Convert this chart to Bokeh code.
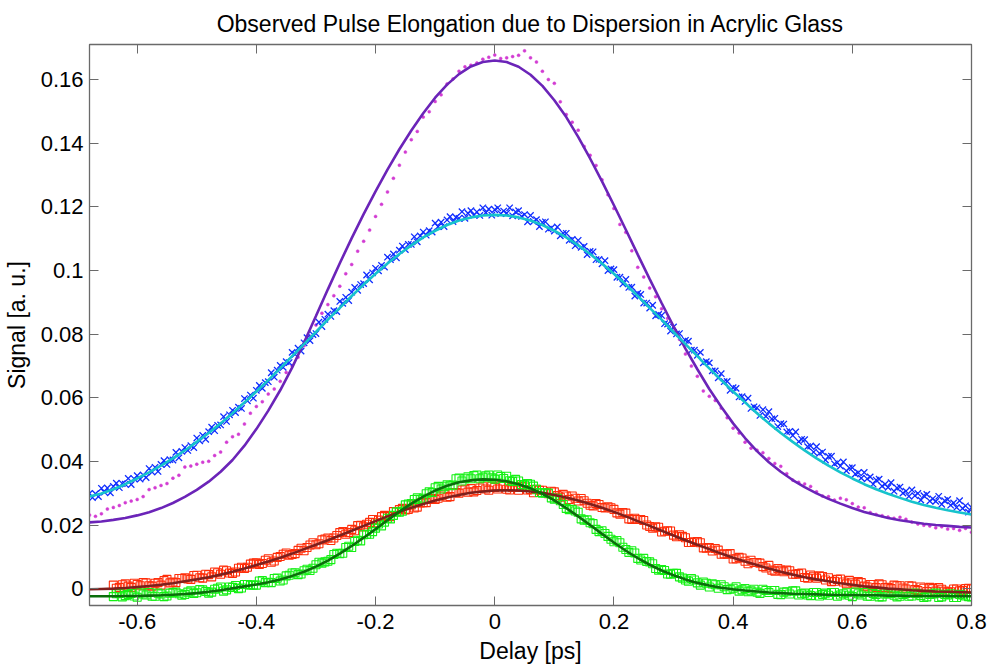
import numpy as np
from bokeh.plotting import figure
from bokeh.models import Range1d, FixedTicker, PrintfTickFormatter, LinearAxis
from bokeh.embed import file_html
from bokeh.resources import INLINE

FONT = "Liberation Sans"

# Fitted curves, sampled every 0.02 ps from -0.68 ps
fit_start, fit_step = -0.68, 0.02
fit_purple = [
    0.0209, 0.0212, 0.0217, 0.0223, 0.0231, 0.0241, 0.0254, 0.0270, 0.0289, 0.0311,
    0.0337, 0.0368, 0.0405, 0.0450, 0.0502, 0.0560, 0.0624, 0.0695, 0.0774, 0.0857,
    0.0941, 0.1023, 0.1102, 0.1177, 0.1249, 0.1317, 0.1381, 0.1440, 0.1494, 0.1543,
    0.1584, 0.1617, 0.1641, 0.1655, 0.1660, 0.1655, 0.1640, 0.1615, 0.1580, 0.1535,
    0.1482, 0.1420, 0.1352, 0.1280, 0.1205, 0.1128, 0.1050, 0.0973, 0.0898, 0.0825,
    0.0755, 0.0690, 0.0628, 0.0572, 0.0520, 0.0474, 0.0433, 0.0398, 0.0368, 0.0342,
    0.0320, 0.0300, 0.0283, 0.0268, 0.0254, 0.0242, 0.0232, 0.0223, 0.0216, 0.0210,
    0.0205, 0.0201, 0.0198, 0.0195, 0.0193,
]
fit_cyan = [
    0.0290, 0.0300, 0.0313, 0.0329, 0.0347, 0.0366, 0.0387, 0.0410, 0.0435, 0.0462,
    0.0490, 0.0520, 0.0552, 0.0586, 0.0620, 0.0656, 0.0693, 0.0731, 0.0769, 0.0807,
    0.0846, 0.0883, 0.0920, 0.0956, 0.0990, 0.1022, 0.1052, 0.1079, 0.1104, 0.1125,
    0.1143, 0.1157, 0.1167, 0.1173, 0.1175, 0.1173, 0.1167, 0.1157, 0.1143, 0.1125,
    0.1104, 0.1079, 0.1052, 0.1022, 0.0990, 0.0956, 0.0920, 0.0883, 0.0846, 0.0807,
    0.0769, 0.0731, 0.0693, 0.0656, 0.0620, 0.0586, 0.0552, 0.0520, 0.0490, 0.0462,
    0.0435, 0.0410, 0.0387, 0.0366, 0.0347, 0.0329, 0.0313, 0.0299, 0.0286, 0.0274,
    0.0264, 0.0255, 0.0247, 0.0240, 0.0234,
]
fit_red = [
    -0.0001, 0.0000, 0.0001, 0.0003, 0.0006, 0.0009, 0.0013, 0.0018, 0.0024, 0.0030,
    0.0037, 0.0045, 0.0054, 0.0064, 0.0075, 0.0086, 0.0098, 0.0111, 0.0125, 0.0139,
    0.0153, 0.0168, 0.0183, 0.0198, 0.0213, 0.0228, 0.0242, 0.0255, 0.0267, 0.0278,
    0.0287, 0.0295, 0.0302, 0.0306, 0.0309, 0.0310, 0.0309, 0.0306, 0.0302, 0.0295,
    0.0287, 0.0278, 0.0267, 0.0255, 0.0242, 0.0228, 0.0213, 0.0198, 0.0183, 0.0168,
    0.0153, 0.0139, 0.0125, 0.0111, 0.0098, 0.0086, 0.0075, 0.0064, 0.0054, 0.0045,
    0.0037, 0.0030, 0.0024, 0.0018, 0.0013, 0.0008, 0.0005, 0.0001, -0.0001, -0.0004,
    -0.0006, -0.0008, -0.0009, -0.0010, -0.0011,
]
fit_green = [
    -0.0023, -0.0023, -0.0023, -0.0022, -0.0022, -0.0021, -0.0020, -0.0018, -0.0016, -0.0013,
    -0.0009, -0.0004, 0.0002, 0.0008, 0.0014, 0.0021, 0.0030, 0.0041, 0.0054, 0.0070,
    0.0089, 0.0111, 0.0135, 0.0161, 0.0188, 0.0216, 0.0243, 0.0268, 0.0290, 0.0309,
    0.0324, 0.0335, 0.0341, 0.0344, 0.0343, 0.0338, 0.0329, 0.0316, 0.0299, 0.0278,
    0.0254, 0.0228, 0.0201, 0.0173, 0.0146, 0.0120, 0.0097, 0.0076, 0.0058, 0.0043,
    0.0030, 0.0019, 0.0011, 0.0004, -0.0001, -0.0005, -0.0008, -0.0011, -0.0013, -0.0015,
    -0.0016, -0.0017, -0.0018, -0.0019, -0.0019, -0.0020, -0.0020, -0.0021, -0.0021, -0.0022,
    -0.0022, -0.0022, -0.0022, -0.0023, -0.0023,
]

# Measured signal, magenta dots: every 0.01 ps from -0.68 ps
mag_start, mag_step = -0.68, 0.01
signal_magenta = [
    0.0232, 0.0228, 0.0236, 0.0251, 0.0256, 0.0262, 0.0271, 0.0276, 0.0281, 0.0290,
    0.0312, 0.0318, 0.0325, 0.0331, 0.0348, 0.0357, 0.0383, 0.0386, 0.0392, 0.0398,
    0.0401, 0.0419, 0.0430, 0.0461, 0.0478, 0.0486, 0.0518, 0.0552, 0.0573, 0.0588,
    0.0612, 0.0628, 0.0652, 0.0680, 0.0701, 0.0728, 0.0764, 0.0792, 0.0829, 0.0866,
    0.0893, 0.0921, 0.0951, 0.0990, 0.1019, 0.1061, 0.1092, 0.1127, 0.1170, 0.1208,
    0.1247, 0.1290, 0.1331, 0.1372, 0.1411, 0.1437, 0.1482, 0.1499, 0.1531, 0.1552,
    0.1586, 0.1602, 0.1626, 0.1640, 0.1645, 0.1652, 0.1664, 0.1670, 0.1677, 0.1666,
    0.1668, 0.1672, 0.1676, 0.1690, 0.1668, 0.1655, 0.1626, 0.1600, 0.1588, 0.1530,
    0.1490, 0.1466, 0.1441, 0.1390, 0.1362, 0.1330, 0.1285, 0.1238, 0.1195, 0.1145,
    0.1120, 0.1062, 0.1010, 0.0980, 0.0945, 0.0918, 0.0880, 0.0850, 0.0820, 0.0784,
    0.0738, 0.0700, 0.0668, 0.0622, 0.0605, 0.0592, 0.0568, 0.0538, 0.0505, 0.0490,
    0.0461, 0.0442, 0.0436, 0.0428, 0.0410, 0.0394, 0.0385, 0.0362, 0.0342, 0.0335,
    0.0330, 0.0322, 0.0305, 0.0292, 0.0290, 0.0279, 0.0285, 0.0280, 0.0268, 0.0257,
    0.0255, 0.0240, 0.0234, 0.0230, 0.0226, 0.0222, 0.0225, 0.0219, 0.0210, 0.0204,
    0.0200, 0.0198, 0.0192, 0.0195, 0.0188, 0.0190, 0.0184, 0.0190, 0.0178,
]

# Measured signal, blue crosses: every 0.005 ps from -0.68 ps
blue_start, blue_step = -0.68, 0.005
signal_blue = [
    0.0300, 0.0287, 0.0299, 0.0290, 0.0316, 0.0304, 0.0317, 0.0302, 0.0322, 0.0332,
    0.0318, 0.0331, 0.0329, 0.0347, 0.0328, 0.0346, 0.0356, 0.0345, 0.0358, 0.0350,
    0.0378, 0.0367, 0.0382, 0.0369, 0.0391, 0.0403, 0.0391, 0.0406, 0.0405, 0.0429,
    0.0412, 0.0432, 0.0444, 0.0435, 0.0450, 0.0444, 0.0474, 0.0465, 0.0482, 0.0470,
    0.0494, 0.0508, 0.0497, 0.0514, 0.0515, 0.0541, 0.0526, 0.0547, 0.0561, 0.0554,
    0.0571, 0.0567, 0.0598, 0.0591, 0.0609, 0.0599, 0.0624, 0.0639, 0.0630, 0.0648,
    0.0651, 0.0679, 0.0665, 0.0687, 0.0702, 0.0696, 0.0714, 0.0711, 0.0743, 0.0737,
    0.0756, 0.0747, 0.0773, 0.0789, 0.0780, 0.0799, 0.0802, 0.0838, 0.0824, 0.0847,
    0.0863, 0.0856, 0.0874, 0.0871, 0.0903, 0.0897, 0.0916, 0.0906, 0.0932, 0.0947,
    0.0938, 0.0956, 0.0959, 0.0986, 0.0971, 0.0993, 0.1007, 0.0999, 0.1016, 0.1011,
    0.1042, 0.1034, 0.1052, 0.1040, 0.1064, 0.1077, 0.1066, 0.1082, 0.1082, 0.1106,
    0.1090, 0.1109, 0.1121, 0.1111, 0.1125, 0.1121, 0.1149, 0.1138, 0.1152, 0.1138,
    0.1159, 0.1169, 0.1154, 0.1167, 0.1164, 0.1185, 0.1164, 0.1180, 0.1188, 0.1174,
    0.1184, 0.1173, 0.1197, 0.1182, 0.1193, 0.1174, 0.1191, 0.1197, 0.1179, 0.1187,
    0.1180, 0.1197, 0.1172, 0.1184, 0.1188, 0.1170, 0.1176, 0.1153, 0.1173, 0.1154,
    0.1160, 0.1138, 0.1151, 0.1153, 0.1130, 0.1134, 0.1124, 0.1137, 0.1109, 0.1117,
    0.1117, 0.1095, 0.1098, 0.1078, 0.1095, 0.1073, 0.1076, 0.1050, 0.1060, 0.1059,
    0.1034, 0.1035, 0.1021, 0.1031, 0.1000, 0.1005, 0.1003, 0.0979, 0.0979, 0.0958,
    0.0972, 0.0947, 0.0948, 0.0920, 0.0928, 0.0925, 0.0898, 0.0898, 0.0882, 0.0891,
    0.0858, 0.0862, 0.0859, 0.0833, 0.0832, 0.0810, 0.0823, 0.0801, 0.0802, 0.0774,
    0.0781, 0.0778, 0.0750, 0.0750, 0.0734, 0.0743, 0.0710, 0.0714, 0.0710, 0.0685,
    0.0685, 0.0663, 0.0676, 0.0651, 0.0652, 0.0624, 0.0632, 0.0630, 0.0603, 0.0604,
    0.0589, 0.0599, 0.0567, 0.0572, 0.0569, 0.0545, 0.0563, 0.0542, 0.0557, 0.0534,
    0.0536, 0.0510, 0.0519, 0.0518, 0.0493, 0.0495, 0.0482, 0.0493, 0.0463, 0.0470,
    0.0469, 0.0447, 0.0449, 0.0430, 0.0447, 0.0426, 0.0430, 0.0405, 0.0416, 0.0417,
    0.0393, 0.0397, 0.0386, 0.0399, 0.0371, 0.0380, 0.0381, 0.0361, 0.0365, 0.0348,
    0.0366, 0.0346, 0.0352, 0.0329, 0.0342, 0.0345, 0.0323, 0.0329, 0.0319, 0.0334,
    0.0307, 0.0317, 0.0320, 0.0301, 0.0307, 0.0291, 0.0311, 0.0293, 0.0300, 0.0279,
    0.0293, 0.0297, 0.0276, 0.0283, 0.0275, 0.0291, 0.0266, 0.0277, 0.0281, 0.0263,
    0.0270, 0.0256, 0.0277, 0.0253, 0.0261, 0.0241, 0.0256,
]

# Measured signal, red and green squares: every 0.01 ps from -0.64 ps ...
sq_start, sq_step = -0.64, 0.01
signal_red = [
    0.0012, 0.0005, 0.0016, 0.0005, 0.0014, 0.0020, 0.0010, 0.0018, 0.0012, 0.0030,
    0.0022, 0.0033, 0.0035, 0.0030, 0.0043, 0.0034, 0.0045, 0.0053, 0.0046, 0.0057,
    0.0049, 0.0065, 0.0064, 0.0078, 0.0082, 0.0080, 0.0095, 0.0088, 0.0102, 0.0113,
    0.0108, 0.0121, 0.0120, 0.0138, 0.0139, 0.0154, 0.0160, 0.0160, 0.0177, 0.0172,
    0.0187, 0.0199, 0.0195, 0.0209, 0.0208, 0.0227, 0.0228, 0.0243, 0.0249, 0.0248,
    0.0264, 0.0257, 0.0271, 0.0281, 0.0281, 0.0292, 0.0288, 0.0303, 0.0301, 0.0313,
    0.0315, 0.0309, 0.0321, 0.0310, 0.0319, 0.0324, 0.0313, 0.0319, 0.0310, 0.0320,
    0.0312, 0.0313, 0.0310, 0.0299, 0.0305, 0.0288, 0.0292, 0.0292, 0.0276, 0.0277,
    0.0263, 0.0268, 0.0256, 0.0258, 0.0250, 0.0235, 0.0238, 0.0218, 0.0218, 0.0215,
    0.0196, 0.0195, 0.0179, 0.0183, 0.0169, 0.0170, 0.0161, 0.0146, 0.0149, 0.0129,
    0.0130, 0.0127, 0.0109, 0.0109, 0.0094, 0.0099, 0.0087, 0.0090, 0.0083, 0.0070,
    0.0074, 0.0056, 0.0059, 0.0059, 0.0046, 0.0048, 0.0036, 0.0044, 0.0034, 0.0039,
    0.0035, 0.0024, 0.0031, 0.0016, 0.0021, 0.0023, 0.0009, 0.0014, 0.0004, 0.0013,
    0.0005, 0.0012, 0.0010, 0.0000, 0.0009, -0.0005, 0.0002, 0.0005, -0.0007, -0.0001,
    -0.0010, 0.0000, -0.0006, 0.0001, 0.0000,
]
signal_green = [
    -0.0024, -0.0014, -0.0021, -0.0014, -0.0026, -0.0016, -0.0011, -0.0023, -0.0016, -0.0022,
    -0.0011, -0.0015, -0.0017, -0.0006, -0.0012, -0.0003, -0.0013, -0.0001, 0.0006, -0.0003,
    0.0005, 0.0001, 0.0014, 0.0012, 0.0012, 0.0026, 0.0021, 0.0033, 0.0025, 0.0041,
    0.0050, 0.0045, 0.0057, 0.0058, 0.0076, 0.0081, 0.0087, 0.0108, 0.0111, 0.0130,
    0.0130, 0.0153, 0.0170, 0.0172, 0.0191, 0.0198, 0.0222, 0.0231, 0.0241, 0.0264,
    0.0268, 0.0286, 0.0285, 0.0305, 0.0318, 0.0314, 0.0327, 0.0326, 0.0348, 0.0346,
    0.0346, 0.0358, 0.0351, 0.0358, 0.0345, 0.0353, 0.0354, 0.0338, 0.0339, 0.0326,
    0.0329, 0.0313, 0.0301, 0.0301, 0.0282, 0.0277, 0.0253, 0.0250, 0.0241, 0.0216,
    0.0208, 0.0187, 0.0183, 0.0165, 0.0148, 0.0145, 0.0124, 0.0120, 0.0096, 0.0096,
    0.0085, 0.0064, 0.0061, 0.0047, 0.0049, 0.0038, 0.0028, 0.0033, 0.0019, 0.0022,
    0.0006, 0.0013, 0.0013, -0.0002, 0.0002, -0.0007, 0.0001, -0.0006, -0.0010, -0.0001,
    -0.0011, -0.0005, -0.0018, -0.0009, -0.0006, -0.0019, -0.0013, -0.0021, -0.0011, -0.0017,
    -0.0020, -0.0011, -0.0019, -0.0012, -0.0024, -0.0015, -0.0011, -0.0023, -0.0017, -0.0025,
    -0.0015, -0.0020, -0.0023, -0.0014, -0.0022, -0.0015, -0.0027, -0.0017, -0.0013, -0.0025,
    -0.0019, -0.0027, -0.0017, -0.0022, -0.0025,
]

# ... and the interleaved samples, every 0.01 ps from -0.635 ps
sq_mid_start = -0.635
signal_red_mid = [
    0.0002, 0.0013, 0.0009, 0.0018, 0.0010, 0.0019, 0.0009, 0.0020, 0.0026, 0.0019,
    0.0020, 0.0033, 0.0031, 0.0042, 0.0035, 0.0046, 0.0038, 0.0051, 0.0059, 0.0050,
    0.0053, 0.0068, 0.0068, 0.0081, 0.0077, 0.0090, 0.0084, 0.0099, 0.0109, 0.0106,
    0.0111, 0.0128, 0.0130, 0.0145, 0.0142, 0.0157, 0.0152, 0.0168, 0.0180, 0.0177,
    0.0183, 0.0200, 0.0203, 0.0218, 0.0216, 0.0231, 0.0227, 0.0243, 0.0253, 0.0250,
    0.0254, 0.0270, 0.0271, 0.0284, 0.0285, 0.0298, 0.0290, 0.0303, 0.0311, 0.0304,
    0.0305, 0.0317, 0.0314, 0.0323, 0.0314, 0.0323, 0.0311, 0.0319, 0.0322, 0.0311,
    0.0302, 0.0310, 0.0302, 0.0307, 0.0293, 0.0297, 0.0281, 0.0285, 0.0284, 0.0269,
    0.0261, 0.0265, 0.0254, 0.0255, 0.0239, 0.0240, 0.0220, 0.0222, 0.0218, 0.0201,
    0.0191, 0.0194, 0.0181, 0.0182, 0.0164, 0.0165, 0.0146, 0.0148, 0.0145, 0.0128,
    0.0119, 0.0122, 0.0110, 0.0111, 0.0095, 0.0097, 0.0079, 0.0083, 0.0081, 0.0066,
    0.0059, 0.0064, 0.0054, 0.0057, 0.0046, 0.0050, 0.0034, 0.0040, 0.0041, 0.0028,
    0.0023, 0.0030, 0.0022, 0.0027, 0.0015, 0.0020, 0.0006, 0.0014, 0.0016, 0.0004,
    0.0001, 0.0010, 0.0003, 0.0010, -0.0002, 0.0006, -0.0008, 0.0001, 0.0004, -0.0007,
    -0.0009, 0.0000, -0.0005, 0.0002,
]
signal_green_mid = [
    -0.0015, -0.0025, -0.0017, -0.0022, -0.0012, -0.0019, -0.0023, -0.0013, -0.0024, -0.0013,
    -0.0010, -0.0020, -0.0010, -0.0014, -0.0002, -0.0008, -0.0010, 0.0002, -0.0007, 0.0006,
    0.0011, 0.0003, 0.0014, 0.0012, 0.0025, 0.0020, 0.0020, 0.0034, 0.0028, 0.0043,
    0.0051, 0.0047, 0.0062, 0.0065, 0.0084, 0.0085, 0.0092, 0.0112, 0.0112, 0.0134,
    0.0149, 0.0151, 0.0172, 0.0180, 0.0204, 0.0210, 0.0220, 0.0242, 0.0244, 0.0267,
    0.0281, 0.0281, 0.0299, 0.0303, 0.0322, 0.0321, 0.0324, 0.0346, 0.0339, 0.0352,
    0.0356, 0.0346, 0.0355, 0.0349, 0.0358, 0.0347, 0.0340, 0.0344, 0.0328, 0.0331,
    0.0323, 0.0303, 0.0302, 0.0286, 0.0285, 0.0265, 0.0249, 0.0245, 0.0220, 0.0217,
    0.0205, 0.0180, 0.0174, 0.0156, 0.0152, 0.0131, 0.0115, 0.0113, 0.0091, 0.0086,
    0.0079, 0.0059, 0.0058, 0.0046, 0.0049, 0.0034, 0.0024, 0.0028, 0.0012, 0.0018,
    0.0016, 0.0002, 0.0007, -0.0001, 0.0007, -0.0003, -0.0009, -0.0001, -0.0014, -0.0005,
    -0.0005, -0.0017, -0.0010, -0.0016, -0.0006, -0.0015, -0.0019, -0.0011, -0.0022, -0.0013,
    -0.0011, -0.0023, -0.0015, -0.0020, -0.0010, -0.0019, -0.0023, -0.0014, -0.0025, -0.0016,
    -0.0014, -0.0025, -0.0017, -0.0023, -0.0013, -0.0021, -0.0025, -0.0016, -0.0027, -0.0017,
    -0.0015, -0.0027, -0.0019, -0.0024,
]

x_ticks = [-0.6, -0.4, -0.2, 0, 0.2, 0.4, 0.6, 0.8]
y_ticks = [0, 0.02, 0.04, 0.06, 0.08, 0.1, 0.12, 0.14, 0.16]


def delays(start, step, values):
    return np.round(start + step * np.arange(len(values)), 4)


p = figure(
    frame_width=882, frame_height=561,
    min_border_left=88, min_border_right=17, min_border_top=43, min_border_bottom=65,
    x_range=Range1d(-0.68, 0.8), y_range=Range1d(-0.0052, 0.171),
    output_backend="svg", toolbar_location=None,
    title="Observed Pulse Elongation due to Dispersion in Acrylic Glass",
)
p.title.align = "center"
p.title.text_font = FONT
p.title.text_font_size = "23px"
p.title.text_font_style = "normal"
p.title.text_color = "black"
p.title.standoff = 16
p.grid.visible = False
p.outline_line_color = "#6a6a6a"
p.outline_line_width = 1.3
p.background_fill_color = "white"
p.border_fill_color = "white"

# Scatter of the measurements
p.scatter(delays(mag_start, mag_step, signal_magenta), signal_magenta,
          marker="circle", size=3, fill_color="#d23cd2", line_color="#d23cd2", line_width=0.5)
p.scatter(delays(blue_start, blue_step, signal_blue), signal_blue,
          marker="x", size=9, line_color="#0f2dff", line_width=1.3)
for start, vals in ((sq_start, signal_red), (sq_mid_start, signal_red_mid)):
    p.scatter(delays(start, sq_step, vals), vals,
              marker="square", size=8, fill_color=None, line_color="#ff2e0a", line_width=1.1)
for start, vals in ((sq_start, signal_green), (sq_mid_start, signal_green_mid)):
    p.scatter(delays(start, sq_step, vals), vals,
              marker="square", size=8, fill_color=None, line_color="#14f014", line_width=1.1)

# Fitted curves
p.line(delays(fit_start, fit_step, fit_purple), fit_purple, line_color="#6b24b8", line_width=2.6)
p.line(delays(fit_start, fit_step, fit_cyan), fit_cyan, line_color="#16c3cc", line_width=2.6)
p.line(delays(fit_start, fit_step, fit_red), fit_red, line_color="#7e1f1c", line_width=2.6)
p.line(delays(fit_start, fit_step, fit_green), fit_green, line_color="#0b6e0b", line_width=2.6)

# Axes: ticks pointing inward on all four sides
p.add_layout(LinearAxis(), "above")
p.add_layout(LinearAxis(), "right")
for ax in p.xaxis:
    ax.ticker = FixedTicker(ticks=x_ticks)
for ax in p.yaxis:
    ax.ticker = FixedTicker(ticks=y_ticks)
for ax in p.axis:
    ax.formatter = PrintfTickFormatter(format="%g")
    ax.major_tick_in = 9
    ax.major_tick_out = 0
    ax.minor_tick_line_color = None
    ax.axis_line_color = "#6a6a6a"
    ax.major_tick_line_color = "#6a6a6a"
    ax.major_label_text_font = FONT
    ax.major_label_text_font_size = "22px"
    ax.major_label_text_color = "black"
    ax.axis_label_text_font = FONT
    ax.axis_label_text_font_size = "23px"
    ax.axis_label_text_font_style = "normal"
    ax.axis_label_text_color = "black"

top_ax, bottom_ax = p.above[-1], p.below[0]
left_ax, right_ax = p.left[0], p.right[0]
for ax in (top_ax, right_ax):
    # tick marks only on the top and right edges of the box
    ax.major_label_text_font_size = "0px"
    ax.major_label_text_color = None
    ax.major_label_standoff = 0
bottom_ax.axis_label = "Delay [ps]"
bottom_ax.major_label_standoff = 8
bottom_ax.axis_label_standoff = 6
left_ax.axis_label = "Signal [a. u.]"
left_ax.major_label_standoff = 6
left_ax.axis_label_standoff = 8

open("out.html", "w").write(file_html(p, INLINE))
